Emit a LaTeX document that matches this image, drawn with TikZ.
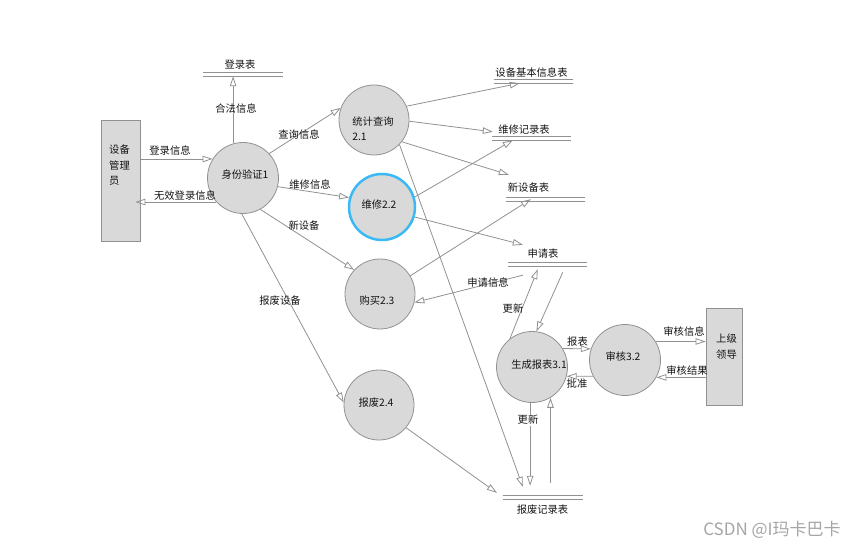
\documentclass[tikz,border=0pt]{standalone}
\usepackage{fontspec}
\setmainfont{Noto Sans CJK SC}
\usetikzlibrary{arrows.meta,calc}
\definecolor{lg}{RGB}{145,145,145}
\definecolor{cf}{RGB}{217,217,217}
\definecolor{bl}{RGB}{59,185,245}
\definecolor{tx}{RGB}{20,20,20}
\definecolor{wmc}{RGB}{165,165,165}
\begin{document}
\begin{tikzpicture}[x=1pt,y=-1pt,
  every node/.style={font=\fontsize{10.3pt}{12pt}\selectfont, text=tx},
  proc/.style={circle, draw=lg, fill=cf, line width=0.8pt, minimum size=70pt, inner sep=0pt},
  ext/.style={rectangle, draw=lg, fill=cf, line width=0.8pt, inner sep=0pt},
  store/.style={inner sep=0pt, minimum height=3pt},
  flow/.style={draw=lg, line width=0.8pt, -{Triangle[open,length=10pt,width=6.5pt]}},
  fl/.style={inner sep=1pt},
]
\useasboundingbox (0,0) rectangle (865,548);

% external entities
\node[ext, minimum width=39pt, minimum height=121pt] (mgr) at (120.5,181) {};
\node[align=left, anchor=west, inner sep=0pt, font=\fontsize{10.3pt}{15.5pt}\selectfont] (mgrt) at (109,165.5) {设备\\管理\\员};
\node[ext, minimum width=36pt, minimum height=97pt] (boss) at (724,356.5) {};
\node[align=center, inner sep=0pt, font=\fontsize{10.3pt}{16pt}\selectfont] (bosst) at (726.5,347) {上级\\领导};

% processes
\node[proc, minimum size=71pt, label={[xshift=2pt,yshift=3pt]center:身份验证1}] (c1) at (243,178) {};
\node[proc, label={[align=left,xshift=-1pt,yshift=-8.5pt,font=\fontsize{10.3pt}{15pt}\selectfont]center:{统计查询\\2.1}}] (c21) at (374,120) {};
\node[proc, draw=bl, line width=2.5pt, minimum size=66pt, label={[xshift=-3pt,yshift=2pt]center:维修2.2}] (c22) at (382,207) {};
\node[proc, label={[xshift=-3pt,yshift=-7pt]center:购买2.3}] (c23) at (380,294) {};
\node[proc, label={[xshift=-3pt,yshift=2pt]center:报废2.4}] (c24) at (379,405) {};
\node[proc, minimum size=71pt, label={[xshift=7pt,yshift=2pt]center:生成报表3.1}] (c31) at (532,367) {};
\node[proc, minimum size=71pt, label={[xshift=-2pt,yshift=3pt]center:审核3.2}] (c32) at (625,360) {};

% data stores
\node[store, minimum width=80pt] (sDL) at (243,74.5) {};
\node[store, minimum width=79pt] (sSB) at (533.5,81.5) {};
\node[store, minimum width=79pt] (sWX) at (531.5,138.5) {};
\node[store, minimum width=79pt] (sXS) at (545.5,199.5) {};
\node[store, minimum width=79pt] (sSQ) at (547.5,264.5) {};
\node[store, minimum width=80pt] (sBF) at (543,497.5) {};
\foreach \s in {sDL,sSB,sWX,sXS,sSQ,sBF}
  \draw[lg, line width=0.8pt] (\s.north west) -- (\s.north east) (\s.south west) -- (\s.south east);
\node (tDL) at (240,65) {登录表};
\node (tSB) at (531.5,73) {设备基本信息表};
\node (tWX) at (524,130) {维修记录表};
\node (tXS) at (528.5,188) {新设备表};
\node (tSQ) at (543,254) {申请表};
\node (tBF) at (542.5,510) {报废记录表};

% flows
\draw[flow] (c1.106) -- (c1.106 |- sDL.south);
\draw[flow] (mgr.east |- c1.148) -- (c1.148);
\coordinate (mgrin) at ($(mgr.east)+(-5,0)$);
\draw[flow] (c1.222) -- (mgrin |- c1.222);
\draw[flow] (c1.43) -- (c21.160);
\draw[flow] (c1.346) -- (c22.164);
\draw[flow] (c1.-61) -- (c23.137);
\draw[flow] (c1.-92) -- (c24.176);
\draw[flow] (c21.23) -- ($(sSB.south west)+(26,0)$);
\draw[flow] (c21.-2) -- ($(sWX.north west)+(1,-5)$);
\draw[flow] (c21.-38) -- ($(sXS.north west)+(3,-23)$);
\draw[flow] (c21.-44) -- ($(sBF.north west)+(20,-9)$);
\draw[flow] (c22.17) -- ($(sWX.south west)+(21,0)$);
\draw[flow] (c22.-17) -- ($(sSQ.north west)+(15,-18)$);
\draw[flow] (c23.31) -- ($(sXS.south west)+(25,-2)$);
\draw[flow] ($(sSQ.south west)+(15,9)$) -- (c23.-14);
\draw[flow] (c31.128) -- ($(sSQ.south west)+(30,3)$);
\draw[flow] ($(sSQ.south west)+(55,6)$) -- (c31.83);
\draw[flow] (c31.31) -- (c32.162);
\draw[flow] (c32.207) -- (c31.-15);
\draw[flow] (c32.31) -- (c32.31 -| boss.west);
\draw[flow] (boss.west |- c32.-29) -- (c32.-29);
\coordinate (bfup) at ($(sBF.north west)+(27,-10)$);
\coordinate (bfst) at ($(sBF.north west)+(0,-13)$);
\draw[flow] (c31.-93) -- (c31.-93 |- bfup);
\draw[flow] (c31.-59 |- bfst) -- (c31.-59);
\draw[flow] (c24.-40) -- ($(sBF.north west)+(-6,-3)$);

% flow labels
\node[fl] (l1) at (236,109) {合法信息};
\node[fl] (l2) at (170,151) {登录信息};
\node[fl] (l3) at (185,196) {无效登录信息};
\node[fl] (l4) at (299,135) {查询信息};
\node[fl] (l5) at (310,185) {维修信息};
\node[fl] (l6) at (304,226) {新设备};
\node[fl] (l7) at (280,301) {报废设备};
\node[fl] (l8) at (488,283) {申请信息};
\node[fl] (l9) at (513,309) {更新};
\node[fl] (l10) at (577.5,342) {报表};
\node[fl] (l11) at (577,384) {批准};
\node[fl] (l12) at (684,332) {审核信息};
\node[fl] (l13) at (687,371) {审核结果};
\node[fl, fill=white] (l14) at (528,420) {更新};

% watermark
\node[text=wmc, font=\fontsize{17pt}{20pt}\selectfont] (wm) at (772,530) {CSDN @I玛卡巴卡};
\end{tikzpicture}
\end{document}
